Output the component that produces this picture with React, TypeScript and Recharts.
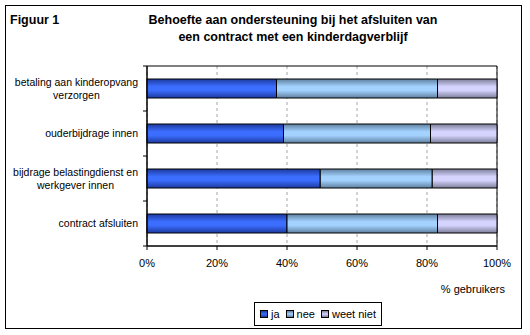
import { Bar, BarChart, CartesianGrid, ReferenceArea, XAxis, YAxis } from "recharts";

const categories = [
  "betaling aan kinderopvang verzorgen",
  "ouderbijdrage innen",
  "bijdrage belastingdienst en werkgever innen",
  "contract afsluiten",
];
const categoryLines = [
  ["betaling aan kinderopvang", "verzorgen"],
  ["ouderbijdrage innen"],
  ["bijdrage belastingdienst en", "werkgever innen"],
  ["contract afsluiten"],
];
const ja = [37, 39, 49.5, 40];
const nee = [46, 42, 32, 43];
const weetNiet = [17, 19, 18.5, 17];
const xTicks = [0, 20, 40, 60, 80, 100];

const series = [
  { key: "ja", name: "ja", dark: "#1c3a9e", light: "#3b6dff" },
  { key: "nee", name: "nee", dark: "#5e7f9e", light: "#a3d2ff" },
  { key: "weetNiet", name: "weet niet", dark: "#7c7c98", light: "#d4d4ff" },
];

const data = categories.map((c, i) => ({
  cat: c,
  ja: ja[i],
  nee: nee[i],
  weetNiet: weetNiet[i],
}));

const FONT = "'Liberation Sans', Arial, sans-serif";
const W = 530;
const H = 335;
const PLOT_TOP = 66;
const PLOT_BOTTOM = 246;
const PLOT_LEFT = 147;
const PLOT_RIGHT = 497;
const BAND = (PLOT_BOTTOM - PLOT_TOP) / categories.length;
const LABEL_SIZE = 10.5;

let ctx: CanvasRenderingContext2D | null = null;
function textWidth(s: string) {
  if (!ctx) ctx = document.createElement("canvas").getContext("2d");
  if (!ctx) return s.length * 5.2;
  ctx.font = `${LABEL_SIZE}px ${FONT}`;
  return ctx.measureText(s).width;
}

function CatTick(props: any) {
  const { x, y, index } = props;
  const lines = categoryLines[index] || [String(props.payload.value)];
  const maxW = Math.max(...lines.map(textWidth));
  const cx = x - maxW / 2;
  const lh = 12.5;
  const y0 = y - ((lines.length - 1) * lh) / 2;
  const axisX = x + 9;
  return (
    <g>
      {index === 0 && (
        <line x1={axisX - 4} x2={axisX} y1={y - BAND / 2} y2={y - BAND / 2} stroke="#000" />
      )}
      <line x1={axisX - 4} x2={axisX} y1={y + BAND / 2} y2={y + BAND / 2} stroke="#000" />
      {lines.map((l, i) => (
        <text
          key={i}
          x={cx}
          y={y0 + i * lh}
          dy="0.36em"
          textAnchor="middle"
          fontSize={LABEL_SIZE}
          fontFamily={FONT}
          fill="#000"
        >
          {l}
        </text>
      ))}
    </g>
  );
}

export default function App() {
  return (
    <div
      style={{
        position: "absolute",
        left: 0,
        top: 0,
        width: W,
        height: H,
        background: "#fff",
        fontFamily: FONT,
      }}
    >
      <div
        style={{
          position: "absolute",
          left: 5,
          top: 5,
          width: 515,
          height: 322,
          border: "1px solid #000",
        }}
      />
      <div style={{ position: "absolute", left: 10, top: 13, fontSize: 12.5, fontWeight: "bold" }}>
        Figuur 1
      </div>
      <div
        style={{
          position: "absolute",
          left: 140,
          width: 306,
          top: 12,
          fontSize: 12.5,
          fontWeight: "bold",
          textAlign: "center",
          lineHeight: "17px",
        }}
      >
        Behoefte aan ondersteuning bij het afsluiten van
        <br />
        een contract met een kinderdagverblijf
      </div>

      <BarChart
        width={W}
        height={H}
        data={data}
        layout="vertical"
        margin={{ top: PLOT_TOP, right: W - PLOT_RIGHT, bottom: H - PLOT_BOTTOM - 30, left: 0 }}
        style={{ position: "absolute", left: 0, top: 0 }}
      >
        <defs>
          {series.map((s) => (
            <linearGradient key={s.key} id={`g-${s.key}`} x1="0" y1="0" x2="0" y2="1">
              <stop offset="0%" stopColor={s.dark} />
              <stop offset="40%" stopColor={s.light} />
              <stop offset="60%" stopColor={s.light} />
              <stop offset="100%" stopColor={s.dark} />
            </linearGradient>
          ))}
        </defs>
        <CartesianGrid horizontal={false} stroke="#a6a6a6" strokeDasharray="3 3" />
        <XAxis
          type="number"
          domain={[0, 100]}
          ticks={xTicks}
          tickFormatter={(v) => `${v}%`}
          height={30}
          stroke="#000"
          tickSize={4}
          tickMargin={9}
          tick={{ fontSize: 11, fontFamily: FONT, fill: "#000" }}
        />
        <YAxis
          type="category"
          dataKey="cat"
          width={PLOT_LEFT}
          stroke="#000"
          tickLine={false}
          tickSize={0}
          tickMargin={9}
          tick={<CatTick />}
          interval={0}
        />
        {series.map((s) => (
          <Bar
            key={s.key}
            dataKey={s.key}
            name={s.name}
            stackId="a"
            barSize={19}
            fill={`url(#g-${s.key})`}
            stroke="#000"
            strokeWidth={1}
            isAnimationActive={false}
          />
        ))}
        <ReferenceArea x1={0} x2={100} stroke="#000" strokeWidth={1} fill="none" fillOpacity={0} />
      </BarChart>

      <div
        style={{
          position: "absolute",
          right: 25,
          top: 283,
          fontSize: 11,
        }}
      >
        % gebruikers
      </div>

      <div
        style={{
          position: "absolute",
          left: 254,
          top: 302,
          width: 126,
          height: 22,
          border: "1px solid #000",
          display: "flex",
          alignItems: "center",
          justifyContent: "center",
          gap: 6,
          fontSize: 11,
        }}
      >
        {series.map((s) => (
          <div key={s.key} style={{ display: "flex", alignItems: "center", gap: 3 }}>
            <span
              style={{
                display: "inline-block",
                width: 6,
                height: 6,
                border: "1px solid #000",
                background: `linear-gradient(${s.dark}, ${s.light} 50%, ${s.dark})`,
              }}
            />
            <span>{s.name}</span>
          </div>
        ))}
      </div>
    </div>
  );
}
